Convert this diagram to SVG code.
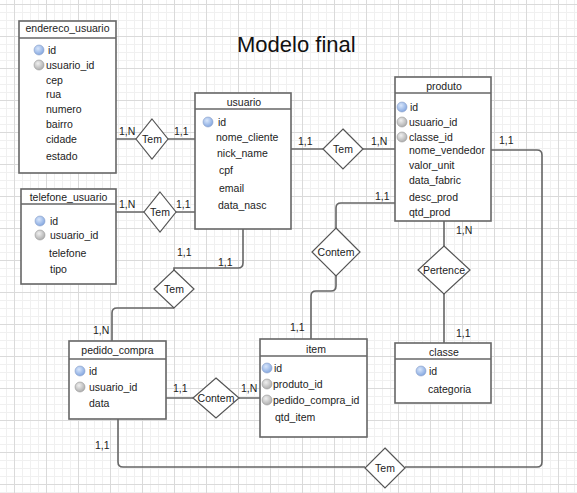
<svg xmlns="http://www.w3.org/2000/svg" width="577" height="493" viewBox="0 0 577 493">
<defs>
<pattern id="minor" x="14" y="4" width="8" height="8" patternUnits="userSpaceOnUse">
<path d="M0 0.5H8M0.5 0V8" stroke="#f0f0f0" stroke-width="1" fill="none"/>
</pattern>
<pattern id="major" x="14" y="4" width="32" height="32" patternUnits="userSpaceOnUse">
<path d="M0 0.5H32M0.5 0V32" stroke="#dadada" stroke-width="1" fill="none"/>
</pattern>
<radialGradient id="pk" cx="0.4" cy="0.35" r="0.7">
<stop offset="0" stop-color="#d8e6fb"/>
<stop offset="1" stop-color="#7fa3de"/>
</radialGradient>
<radialGradient id="fk" cx="0.4" cy="0.35" r="0.7">
<stop offset="0" stop-color="#f0f0f0"/>
<stop offset="1" stop-color="#a8a8a8"/>
</radialGradient>
</defs>
<style>
text{font-family:"Liberation Sans",Arial,sans-serif;font-size:10.5px;fill:#222}
.ent{fill:#fff;stroke:#666;stroke-width:1.6}
.hdr{stroke:#666;stroke-width:1.4}
.ttl{text-anchor:middle}
.rel{fill:#fff;stroke:#555;stroke-width:1.2}
.rt{text-anchor:middle}
.con{fill:none;stroke:#666;stroke-width:1.6}
.pk{fill:url(#pk);stroke:#8aa0c8;stroke-width:0.6}
.fk{fill:url(#fk);stroke:#999;stroke-width:0.6}
</style>
<rect width="577" height="493" fill="#fff"/>
<rect width="577" height="493" fill="url(#minor)"/>
<rect width="577" height="493" fill="url(#major)"/>

<text x="237" y="52" style="font-size:22px;fill:#111">Modelo final</text>

<g id="connectors">
<path class="con" d="M116 139H136M168 139H195"/>
<path class="con" d="M116 212H144M176 212H195"/>
<path class="con" d="M291 149H323M363 149H395"/>
<path class="con" d="M243 229V263Q243 268 238 268H174V270"/>
<path class="con" d="M174 308H117Q112 308 112 313V341"/>
<path class="con" d="M166 398H193M239 398H260"/>
<path class="con" d="M395 203H341Q336 203 336 208V228M336 276V286Q336 291 331 291H316Q311 291 311 296V339"/>
<path class="con" d="M444 221V246M444 294V343"/>
<path class="con" d="M118 419V462Q118 467 123 467H365M405 467H537Q542 467 542 462V155Q542 150 537 150H491"/>
<text x="119" y="135">1,N</text>
<text x="174" y="135">1,1</text>
<text x="119" y="208">1,N</text>
<text x="176" y="208">1,1</text>
<text x="177" y="256">1,1</text>
<text x="218" y="266">1,1</text>
<text x="93" y="334">1,N</text>
<text x="298" y="145">1,1</text>
<text x="371" y="145">1,N</text>
<text x="499" y="144">1,1</text>
<text x="375" y="200">1,1</text>
<text x="290" y="331">1,1</text>
<text x="456" y="234">1,N</text>
<text x="456" y="337">1,1</text>
<text x="173" y="392">1,1</text>
<text x="241" y="392">1,N</text>
<text x="95" y="449">1,1</text>
</g>

<g id="endereco_usuario">
<rect class="ent" x="19" y="21" width="97" height="152"/>
<line class="hdr" x1="19" y1="38" x2="116" y2="38"/>
<text class="ttl" x="67.5" y="32">endereco_usuario</text>
<circle class="pk" cx="39" cy="50" r="5"/>
<circle class="fk" cx="39" cy="65" r="5"/>
<text x="48" y="54">id</text>
<text x="46" y="69">usuario_id</text>
<text x="46" y="84">cep</text>
<text x="46" y="98">rua</text>
<text x="46" y="113">numero</text>
<text x="46" y="128">bairro</text>
<text x="46" y="143">cidade</text>
<text x="46" y="160">estado</text>
</g>

<g id="telefone_usuario">
<rect class="ent" x="21" y="189" width="95" height="95"/>
<line class="hdr" x1="21" y1="204" x2="116" y2="204"/>
<text class="ttl" x="68.5" y="201">telefone_usuario</text>
<circle class="pk" cx="40" cy="221" r="5"/>
<circle class="fk" cx="40" cy="235" r="5"/>
<text x="50" y="225">id</text>
<text x="50" y="239">usuario_id</text>
<text x="49" y="257">telefone</text>
<text x="50" y="273">tipo</text>
</g>

<g id="usuario">
<rect class="ent" x="195" y="93" width="96" height="136"/>
<line class="hdr" x1="195" y1="109" x2="291" y2="109"/>
<text class="ttl" x="244" y="106">usuario</text>
<circle class="pk" cx="208" cy="122" r="5"/>
<text x="218" y="126">id</text>
<text x="216" y="141">nome_cliente</text>
<text x="217" y="157">nick_name</text>
<text x="219" y="174">cpf</text>
<text x="219" y="192">email</text>
<text x="218" y="209">data_nasc</text>
</g>

<g id="produto">
<rect class="ent" x="395" y="77" width="96" height="144"/>
<line class="hdr" x1="395" y1="93" x2="491" y2="93"/>
<text class="ttl" x="444" y="90">produto</text>
<circle class="pk" cx="402" cy="107" r="5"/>
<circle class="fk" cx="402" cy="122" r="5"/>
<circle class="fk" cx="402" cy="137" r="5"/>
<text x="410" y="111">id</text>
<text x="409" y="126">usuario_id</text>
<text x="409" y="141">classe_id</text>
<text x="409" y="154">nome_vendedor</text>
<text x="409" y="169">valor_unit</text>
<text x="409" y="184">data_fabric</text>
<text x="409" y="201">desc_prod</text>
<text x="409" y="216">qtd_prod</text>
</g>

<g id="pedido_compra">
<rect class="ent" x="69" y="341" width="97" height="78"/>
<line class="hdr" x1="69" y1="359" x2="166" y2="359"/>
<text class="ttl" x="117.5" y="354">pedido_compra</text>
<circle class="pk" cx="80" cy="371" r="5"/>
<circle class="fk" cx="80" cy="387" r="5"/>
<text x="89" y="375">id</text>
<text x="89" y="391">usuario_id</text>
<text x="89" y="407">data</text>
</g>

<g id="item">
<rect class="ent" x="260" y="339" width="107" height="98"/>
<line class="hdr" x1="260" y1="356" x2="367" y2="356"/>
<text class="ttl" x="316" y="353">item</text>
<circle class="pk" cx="267" cy="368" r="5"/>
<circle class="fk" cx="267" cy="384" r="5"/>
<circle class="fk" cx="267" cy="400" r="5"/>
<text x="274" y="372">id</text>
<text x="273" y="388">produto_id</text>
<text x="273" y="404">pedido_compra_id</text>
<text x="275" y="421">qtd_item</text>
</g>

<g id="classe">
<rect class="ent" x="395" y="343" width="96" height="60"/>
<line class="hdr" x1="395" y1="359" x2="491" y2="359"/>
<text class="ttl" x="444" y="356">classe</text>
<circle class="pk" cx="421" cy="371" r="5"/>
<text x="429" y="375">id</text>
<text x="428" y="393">categoria</text>
</g>

<g id="rel_tem_endereco">
<polygon class="rel" points="152,119 168,139 152,159 136,139"/>
<text class="rt" x="152" y="143">Tem</text>
</g>
<g id="rel_tem_telefone">
<polygon class="rel" points="160,192 176,212 160,232 144,212"/>
<text class="rt" x="160" y="216">Tem</text>
</g>
<g id="rel_tem_produto">
<polygon class="rel" points="343,129 363,149 343,169 323,149"/>
<text class="rt" x="343" y="153">Tem</text>
</g>
<g id="rel_tem_pedido">
<polygon class="rel" points="174,270 194,289 174,308 154,289"/>
<text class="rt" x="174" y="293">Tem</text>
</g>
<g id="rel_contem_pedido_item">
<polygon class="rel" points="216,378 239,398 216,418 193,398"/>
<text class="rt" x="216" y="402">Contem</text>
</g>
<g id="rel_contem_produto_item">
<polygon class="rel" points="336,228 360,252 336,276 312,252"/>
<text class="rt" x="336" y="256">Contem</text>
</g>
<g id="rel_pertence">
<polygon class="rel" points="444,246 470,270 444,294 418,270"/>
<text class="rt" x="444" y="274">Pertence</text>
</g>
<g id="rel_tem_bottom">
<polygon class="rel" points="385,448 405,468 385,488 365,468"/>
<text class="rt" x="385" y="472">Tem</text>
</g>
</svg>
